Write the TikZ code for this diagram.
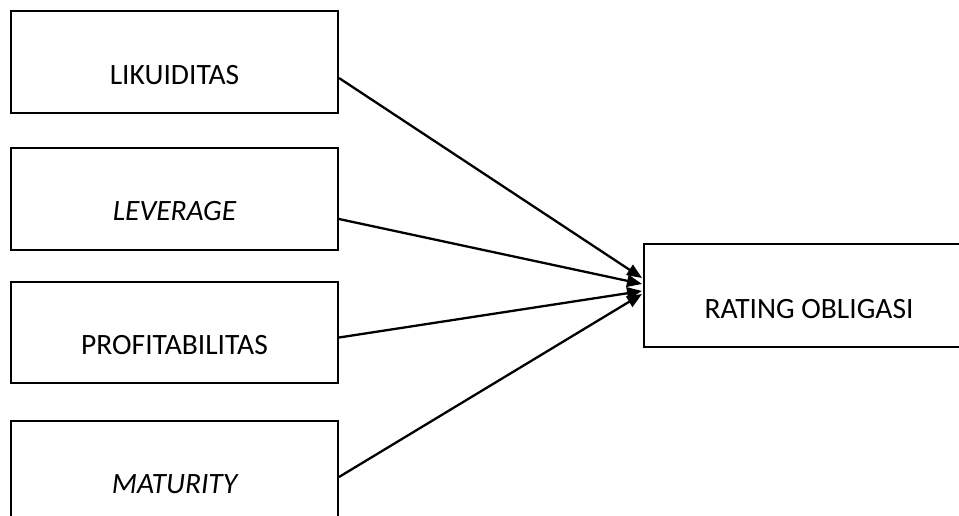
\documentclass[tikz,border=0pt]{standalone}
\usepackage{fontspec}
\setmainfont{Carlito}
\usetikzlibrary{arrows.meta}
\begin{document}
\begin{tikzpicture}[x=1pt,y=-1pt,
  boxst/.style={draw=black,line width=2pt,rectangle,inner sep=0pt,anchor=north west},
  lbl/.style={font=\fontsize{29.5}{32}\selectfont,inner sep=0pt},
  conn/.style={line width=2.3pt,-{Triangle[length=15pt,width=12pt]}}]
\useasboundingbox (0,0) rectangle (959,515);
\clip (0,0) rectangle (959,515);
\node[boxst,minimum width=327pt,minimum height=102pt] (b1) at (10,10) {};
\node[boxst,minimum width=327pt,minimum height=102pt] (b2) at (10,147) {};
\node[boxst,minimum width=327pt,minimum height=101pt] (b3) at (10,281) {};
\node[boxst,minimum width=327pt,minimum height=102pt] (b4) at (10,420) {};
\node[boxst,minimum width=330pt,minimum height=103pt] (r) at (643,243) {};
\node[lbl] (t1) at ([yshift=-13pt]b1.center) {LIKUIDITAS};
\node[lbl] (t2) at ([yshift=-12pt]b2.center) {\itshape LEVERAGE};
\node[lbl] (t3) at ([yshift=-13pt]b3.center) {PROFITABILITAS};
\node[lbl] (t4) at ([yshift=-12pt]b4.center) {\itshape MATURITY};
\node[lbl] (t5) at ([yshift=-14pt]r.center) {RATING OBLIGASI};
\coordinate (e1) at (642,278);
\coordinate (e2) at (642,284);
\coordinate (e3) at (642,291);
\coordinate (e4) at (642,294);
\draw[conn] ([yshift=-16pt]b1.east) -- (e1);
\draw[conn] ([yshift=-20pt]b2.east) -- (e2);
\draw[conn] ([yshift=-5pt]b3.east) -- (e3);
\draw[conn] ([yshift=-5pt]b4.east) -- (e4);
\end{tikzpicture}
\end{document}
